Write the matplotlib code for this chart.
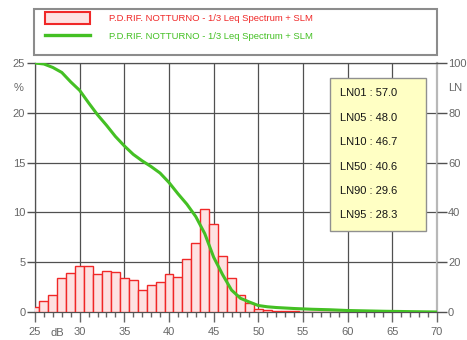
import matplotlib
matplotlib.use('Agg')
import matplotlib.pyplot as plt
from matplotlib.patches import Rectangle
from matplotlib.lines import Line2D

matplotlib.rcParams.update({'font.family': 'Liberation Sans', 'font.size': 8})

# 1 dB class histogram (% of time per level)
levels = list(range(25, 63))
pct = [0.5, 1.15, 1.75, 3.45, 3.95, 4.65, 4.65, 3.8, 4.1, 4.05,
       3.4, 3.2, 2.25, 2.7, 3.05, 3.85, 3.55, 5.3, 6.95, 10.3,
       8.8, 5.65, 3.45, 1.75, 0.9, 0.35, 0.2, 0.15, 0.1, 0.1,
       0.05, 0.05, 0.05, 0.05, 0.03, 0.03, 0.03, 0.03]

# cumulative exceedance curve (LN, %)
ln_db = [25, 26, 27, 28, 29, 30, 31, 32, 33, 34, 35, 36, 37, 38, 39, 40,
         41, 42, 43, 44, 45, 46, 47, 48, 49, 50, 51, 52, 54, 56, 58, 60,
         62, 64, 66, 68, 70]
ln_pct = [100, 99.6, 98.2, 96.2, 92.4, 89, 84, 79.2, 75, 70.5, 66.7, 63.3,
          60.7, 58.4, 55.8, 52, 47.5, 43.3, 38.3, 31.5, 22, 15, 8.8, 5.5,
          4, 2.6, 2.1, 1.8, 1.4, 1.1, 0.9, 0.6, 0.45, 0.3, 0.2, 0.1, 0]

stats_names = ['LN01', 'LN05', 'LN10', 'LN50', 'LN90', 'LN95']
stats_vals = [57.0, 48.0, 46.7, 40.6, 29.6, 28.3]

legend_label = 'P.D.RIF. NOTTURNO - 1/3 Leq Spectrum + SLM'

W, H = 467, 340
fig = plt.figure(figsize=(W / 100, H / 100), dpi=100)
ax = fig.add_axes([35 / W, 28 / H, 402 / W, 249 / H])

grid_c = '#505050'
tick_c = '#666666'
red = '#f02828'
green = '#44c024'

bars = ax.bar(levels, pct, width=1.0, color='#fde2e2', edgecolor=red,
              linewidth=1.0, zorder=3)

ax.set_xlim(25, 70)
ax.set_ylim(0, 25)
ax.set_xticks(range(25, 71, 5))
ax.set_xticks(range(25, 71), minor=True)
ax.set_yticks(range(0, 26, 5))
ax.grid(True, color=grid_c, linewidth=0.9, zorder=1)
ax.set_axisbelow(True)

ax.tick_params(axis='x', which='major', length=7, width=1, color=tick_c,
               labelcolor=tick_c, pad=4)
ax.tick_params(axis='x', which='minor', length=3.5, width=1, color=tick_c)
ax.tick_params(axis='y', length=6, width=1, color=grid_c, labelcolor=tick_c, pad=1)
for s in ['left', 'bottom', 'top']:
    ax.spines[s].set_color(grid_c)
    ax.spines[s].set_linewidth(0.9)
ax.spines['right'].set_color('#b8b8b8')
ax.spines['right'].set_linewidth(1.6)

ax.text(27.5, -0.065, 'dB', transform=ax.get_xaxis_transform(),
        ha='center', va='top', color=tick_c)
ax.text(-0.042, 0.9, '%', transform=ax.transAxes, ha='center', va='center',
        color=tick_c)

ax2 = ax.twinx()
ax2.set_ylim(0, 100)
ax2.set_yticks(range(0, 101, 20))
ax2.tick_params(axis='y', length=7, width=1, color=grid_c, labelcolor=tick_c, pad=1)
for s in ax2.spines.values():
    s.set_visible(False)
curve, = ax2.plot(ln_db, ln_pct, color=green, linewidth=2.2,
                  solid_joinstyle='round', solid_capstyle='round', zorder=4)
ax2.text(1.045, 0.9, 'LN', transform=ax2.transAxes, ha='center', va='center',
         color=tick_c)

# statistics box
ax2.add_patch(Rectangle((0.734, 0.325), 0.239, 0.615, transform=ax2.transAxes,
                        facecolor='#ffffc4', edgecolor='#909090', linewidth=1,
                        zorder=5))
row_y = [0.878, 0.779, 0.683, 0.582, 0.486, 0.39]
for name, val, yy in zip(stats_names, stats_vals, row_y):
    ax2.text(0.759, yy, f'{name} : {val:.1f}', transform=ax2.transAxes,
             ha='left', va='center', fontsize=8, color='#151515', zorder=6)

# legend frame on top
fig.patches.append(Rectangle((34 / W, 1 - 55 / H), 403 / W, 46 / H,
                             transform=fig.transFigure, facecolor='white',
                             edgecolor='#8c8c8c', linewidth=1.5))
h_bar = Rectangle((0, 0), 1, 1, facecolor='#fde2e2', edgecolor=red, linewidth=1.5)
h_line = Line2D([], [], color=green, linewidth=2.4)
leg = fig.legend([h_bar, h_line], [legend_label, legend_label],
                 loc='upper left', bbox_to_anchor=(45 / W, 1 - 12 / H),
                 frameon=False, fontsize=6.8, handlelength=4.8, handleheight=1.5,
                 handletextpad=2.0, labelspacing=0.75, borderpad=0,
                 borderaxespad=0)
leg.get_texts()[0].set_color(red)
leg.get_texts()[1].set_color(green)

fig.savefig('out.png', dpi=100)
